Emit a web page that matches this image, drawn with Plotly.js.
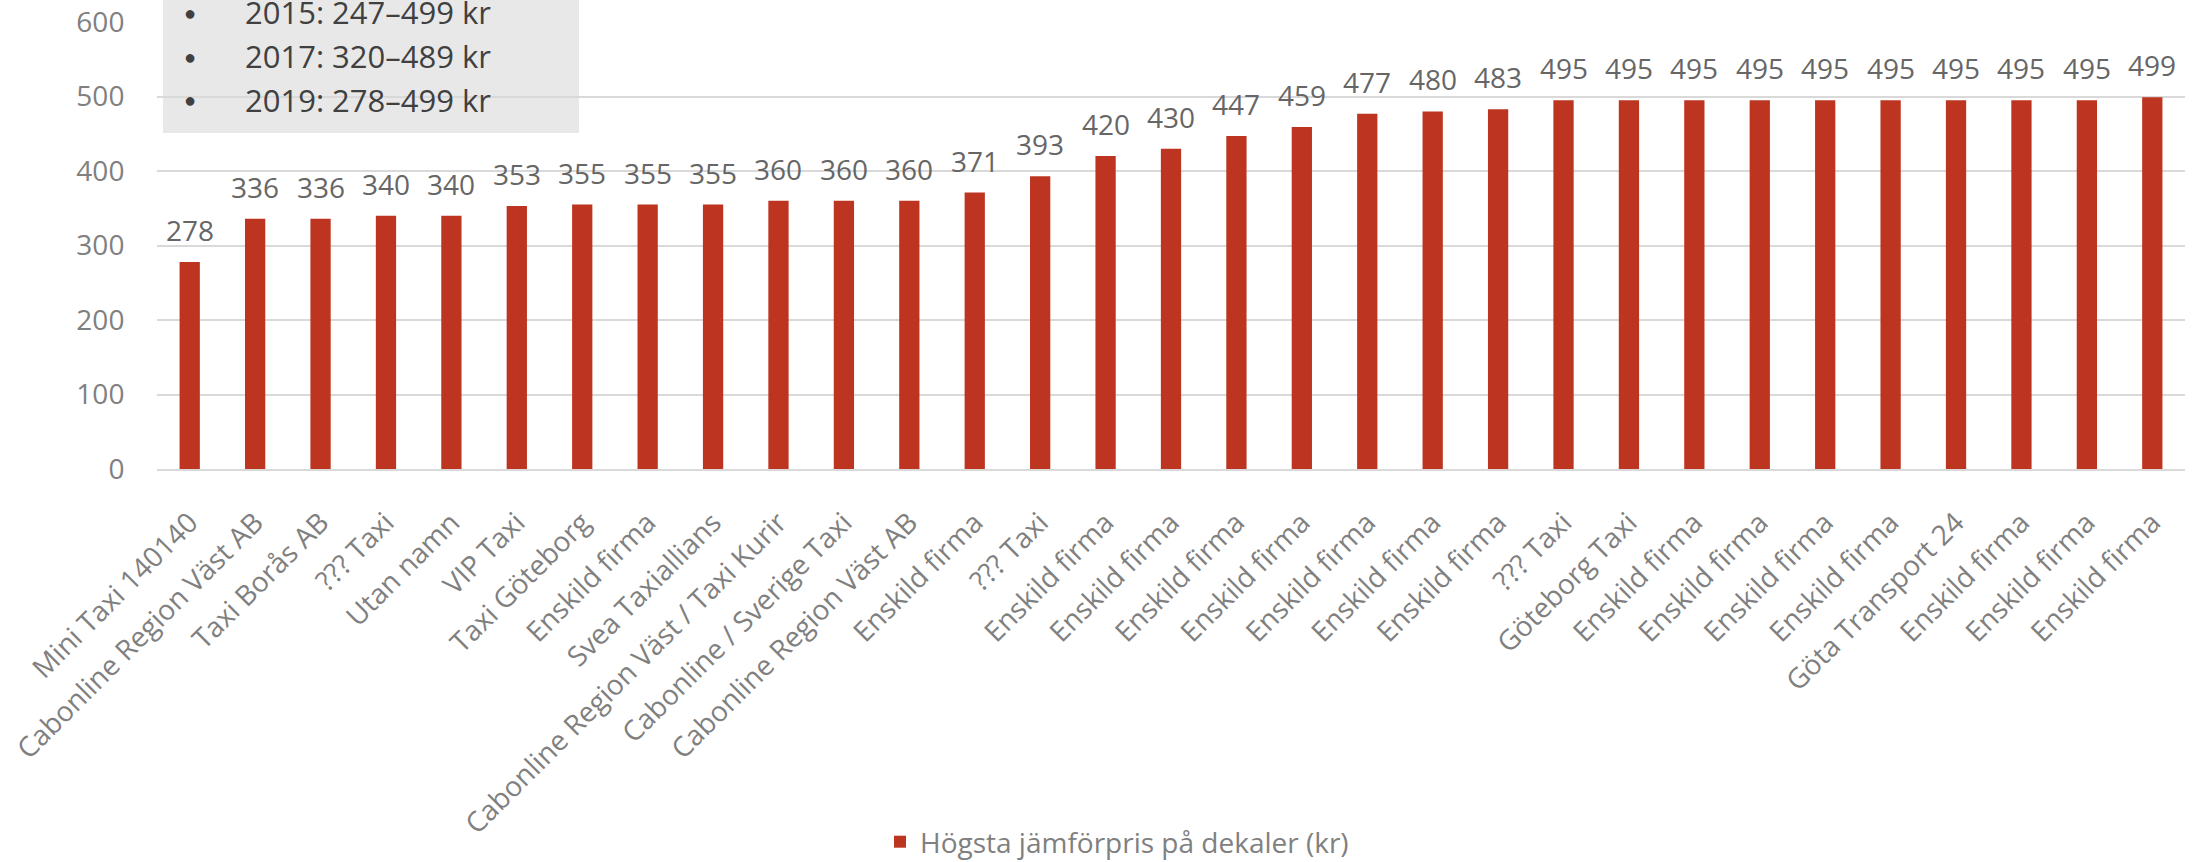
<!DOCTYPE html>
<html>
<head>
<meta charset="utf-8">
<script src="https://cdn.plot.ly/plotly-3.0.1.min.js"></script>
<style>
  html, body { margin: 0; padding: 0; background: #ffffff; }
  #chart { width: 2198px; height: 862px; }
</style>
</head>
<body>
<div id="chart"></div>
<script>
// ---- data ----
const categories = [
  'Mini Taxi 140140', 'Cabonline Region Väst AB', 'Taxi Borås AB', '??? Taxi', 'Utan namn',
  'VIP Taxi', 'Taxi Göteborg', 'Enskild firma', 'Svea Taxiallians', 'Cabonline Region Väst / Taxi Kurir',
  'Cabonline / Sverige Taxi', 'Cabonline Region Väst AB', 'Enskild firma', '??? Taxi', 'Enskild firma',
  'Enskild firma', 'Enskild firma', 'Enskild firma', 'Enskild firma', 'Enskild firma',
  'Enskild firma', '??? Taxi', 'Göteborg Taxi', 'Enskild firma', 'Enskild firma',
  'Enskild firma', 'Enskild firma', 'Göta Transport 24', 'Enskild firma', 'Enskild firma',
  'Enskild firma'
];
const prices = [
  278, 336, 336, 340, 340,
  353, 355, 355, 355, 360,
  360, 360, 371, 393, 420,
  430, 447, 459, 477, 480,
  483, 495, 495, 495, 495,
  495, 495, 495, 495, 495,
  499
];
const seriesName = 'Högsta jämförpris på dekaler (kr)';
const rangeLines = ['2015: 247–499 kr', '2017: 320–489 kr', '2019: 278–499 kr'];
const yTicks = [0, 100, 200, 300, 400, 500, 600];

// ---- layout helpers (pixel -> paper) ----
const W = 2198, H = 862;
const M = { l: 157, r: 13, t: 22, b: 393 };
const PW = W - M.l - M.r, PH = H - M.t - M.b;
const px = v => (v - M.l) / PW;
const py = v => 1 - (v - M.t) / PH;

const idx = categories.map((_, i) => i);
const FONT = 'Open Sans, Noto Sans, sans-serif';

const trace = {
  type: 'bar',
  x: idx,
  y: prices,
  name: seriesName,
  marker: { color: '#BD3521' },
  hoverinfo: 'x+y'
};

const annotations = [];
// data labels above the bars, placed through the axes
prices.forEach((v, i) => {
  annotations.push({
    xref: 'x', yref: 'y', x: idx[i], y: v,
    xanchor: 'center', yanchor: 'bottom', yshift: 11, showarrow: false,
    text: String(v), font: { family: FONT, size: 28, color: '#666666' }
  });
});
// grey info box text
rangeLines.forEach((t, i) => {
  const yc = [12, 56, 100][i];
  annotations.push({
    xref: 'paper', yref: 'paper', x: px(190), y: py(yc),
    xanchor: 'center', yanchor: 'middle', showarrow: false,
    text: '●', font: { family: FONT, size: 20, color: '#404040' }
  });
  annotations.push({
    xref: 'paper', yref: 'paper', x: px(243), y: py(yc),
    xanchor: 'left', yanchor: 'middle', showarrow: false,
    text: t, font: { family: FONT, size: 31, color: '#404040' }
  });
});

const layout = {
  width: W, height: H,
  margin: M,
  paper_bgcolor: '#ffffff',
  plot_bgcolor: 'rgba(0,0,0,0)',
  bargap: 0.69,
  showlegend: true,
  legend: {
    orientation: 'h',
    xref: 'container', yref: 'container',
    x: 1117 / W, y: 1 - 842 / H, xanchor: 'center', yanchor: 'middle',
    font: { family: FONT, size: 28, color: '#808080' }
  },
  xaxis: {
    range: [-0.5, categories.length - 0.5],
    tickvals: idx,
    ticktext: categories,
    tickangle: -45,
    ticks: 'outside', ticklen: 24, tickcolor: 'rgba(0,0,0,0)',
    tickfont: { family: FONT, size: 28, color: '#808080' },
    showgrid: false,
    showline: true, linecolor: '#D9D9D9', linewidth: 2,
    zeroline: false,
    automargin: false,
    fixedrange: true
  },
  yaxis: {
    range: [0, 600],
    tickvals: yTicks,
    ticktext: yTicks.map(String),
    ticks: 'outside', ticklen: 26, tickcolor: 'rgba(0,0,0,0)',
    tickfont: { family: FONT, size: 28, color: '#808080' },
    showgrid: true, gridcolor: '#D9D9D9', gridwidth: 2,
    zeroline: false,
    showline: false,
    automargin: false,
    fixedrange: true
  },
  shapes: [{
    type: 'rect', xref: 'paper', yref: 'paper', layer: 'below',
    x0: px(163), x1: px(579), y0: py(133), y1: py(-5),
    fillcolor: '#E8E8E8', line: { width: 0 }
  }],
  annotations: annotations
};

Plotly.newPlot('chart', [trace], layout, { staticPlot: true, displayModeBar: false });
</script>
</body>
</html>
